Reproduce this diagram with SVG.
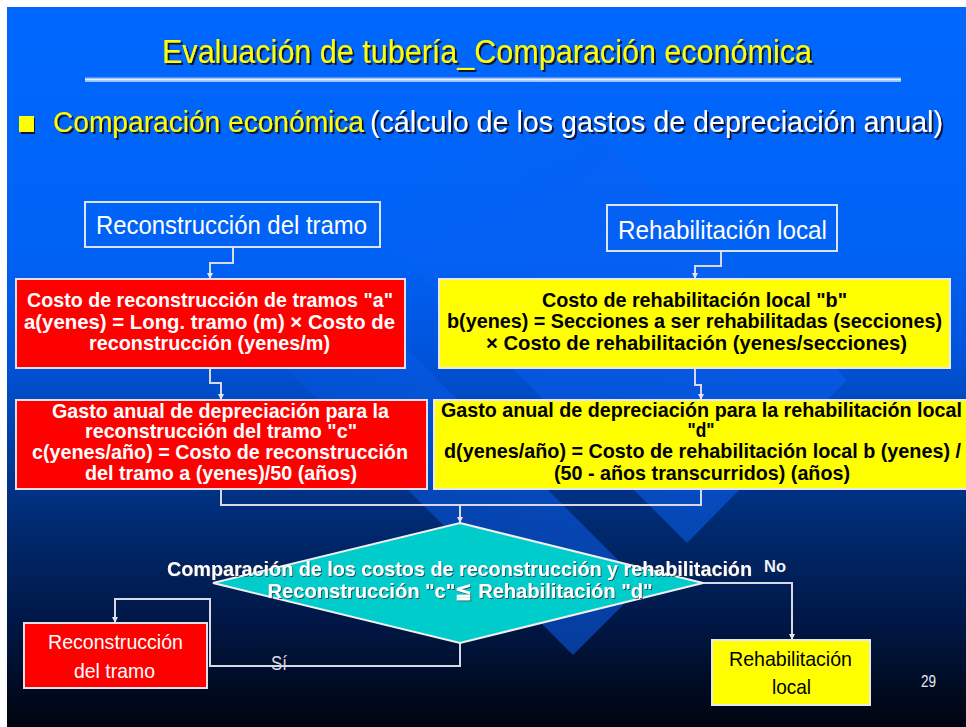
<svg xmlns="http://www.w3.org/2000/svg" width="966" height="727" viewBox="0 0 966 727">
<defs>
<linearGradient id="bg" gradientUnits="userSpaceOnUse" x1="0" y1="0" x2="0" y2="727">
<stop offset="0" stop-color="#0068FF"/>
<stop offset="0.35" stop-color="#0062F5"/>
<stop offset="0.5" stop-color="#0052D8"/>
<stop offset="0.62" stop-color="#003C9E"/>
<stop offset="0.72" stop-color="#002A70"/>
<stop offset="0.85" stop-color="#001848"/>
<stop offset="1" stop-color="#00040E"/>
</linearGradient>
<linearGradient id="bandg" gradientUnits="userSpaceOnUse" x1="250" y1="250" x2="600" y2="600">
<stop offset="0" stop-color="#0b5ff0" stop-opacity="0"/>
<stop offset="0.5" stop-color="#0b5ff0" stop-opacity="0.45"/>
<stop offset="1" stop-color="#0b5ff0" stop-opacity="0.55"/>
</linearGradient>
<filter id="ds" x="-5%" y="-20%" width="110%" height="140%">
<feDropShadow dx="2" dy="2" stdDeviation="0.6" flood-color="#101020" flood-opacity="0.9"/>
</filter>
<filter id="ds1" x="-5%" y="-20%" width="110%" height="140%">
<feDropShadow dx="1" dy="1" stdDeviation="0.5" flood-color="#303040" flood-opacity="0.8"/>
</filter>
<marker id="ah" markerUnits="userSpaceOnUse" markerWidth="7" markerHeight="7" refX="6" refY="3.5" orient="auto">
<path d="M0,0.5 L6,3.5 L0,6.5 z" fill="#e4e4f0"/>
</marker>
<style>
.band{fill:url(#bandg)}
.con{fill:none;stroke:#d8d8e6;stroke-width:2}
.frame{fill:none;stroke:#dce4f4;stroke-width:2}
.red{fill:#FF0000;stroke:#e8e0e8;stroke-width:2}
.yel{fill:#FFFF00;stroke:#e8e8e8;stroke-width:2}
.dia{fill:#00CCCC;stroke:#f0f0f0;stroke-width:2}
.nar{font-family:"Liberation Sans Narrow","Liberation Sans",Arial,sans-serif}
.bw{font-family:"Liberation Sans Narrow","Liberation Sans",Arial,sans-serif;font-weight:bold;font-size:21px;text-anchor:middle}
.wt{fill:#ffffff}
.bk{fill:#000000}
</style>
</defs>
<rect x="0" y="0" width="966" height="727" fill="#ffffff"/>
<rect x="7" y="7" width="959" height="720" fill="url(#bg)"/>
<g id="stripes">
<polygon class="band" points="847,380 687,543 372,228 533,67"/>
<polygon class="band" points="643,585 573,655 259,341 329,271"/>
</g>
<g id="title">
<text class="nar" filter="url(#ds)" x="162" y="63" font-size="34" fill="#FFFF00" textLength="650" lengthAdjust="spacingAndGlyphs">Evaluación de tubería_Comparación económica</text>
<rect x="85" y="77.5" width="816" height="4.5" fill="#9cc0ff"/>
<line x1="85" y1="79.7" x2="901" y2="79.7" stroke="#e8f0ff" stroke-width="1.2"/>
</g>
<g id="bullet">
<rect x="19" y="116" width="15" height="16" fill="#FFFF00" filter="url(#ds)"/>
<text class="nar" filter="url(#ds)" x="53" y="132" font-size="30" fill="#FFFF00" textLength="311" lengthAdjust="spacingAndGlyphs">Comparación económica</text>
<text class="nar" filter="url(#ds)" x="370" y="132" font-size="30" fill="#ffffff" textLength="573" lengthAdjust="spacingAndGlyphs">(cálculo de los gastos de depreciación anual)</text>
</g>
<g id="connectors">
<path class="con" d="M233,247 V263 H210 V279" marker-end="url(#ah)"/>
<path class="con" d="M721,251 V266 H695 V279" marker-end="url(#ah)"/>
<path class="con" d="M210,368 V383 H221 V400" marker-end="url(#ah)"/>
<path class="con" d="M695,368 V385 H701 V400" marker-end="url(#ah)"/>
<path class="con" d="M221,489 V505 H701 V489"/>
<path class="con" d="M460,505 V523" marker-end="url(#ah)"/>
<path class="con" d="M460,643 V666 H210 V599 H115 V623" marker-end="url(#ah)"/>
<path class="con" d="M703,583 H792 V640" marker-end="url(#ah)"/>
</g>
<g id="n_reconstruccion">
<rect class="frame" x="85" y="202" width="295" height="45"/>
<text class="nar wt" x="96" y="234" font-size="26" textLength="271" lengthAdjust="spacingAndGlyphs">Reconstrucción del tramo</text>
</g>
<g id="n_rehabilitacion">
<rect class="frame" x="607" y="205" width="230" height="46"/>
<text class="nar wt" x="618" y="239" font-size="26" textLength="209" lengthAdjust="spacingAndGlyphs">Rehabilitación local</text>
</g>
<g id="n_costo_a">
<rect class="red" x="16" y="279" width="389" height="89"/>
<text class="bw wt" x="210" y="307" textLength="366" lengthAdjust="spacingAndGlyphs">Costo de reconstrucción de tramos "a"</text>
<text class="bw wt" x="209.5" y="329" textLength="371" lengthAdjust="spacingAndGlyphs">a(yenes) = Long. tramo (m)  ×  Costo de</text>
<text class="bw wt" x="209.5" y="350" textLength="241" lengthAdjust="spacingAndGlyphs">reconstrucción (yenes/m)</text>
</g>
<g id="n_costo_b">
<rect class="yel" x="439" y="279" width="511" height="89"/>
<text class="bw bk" x="694.5" y="307" textLength="305" lengthAdjust="spacingAndGlyphs">Costo de rehabilitación local "b"</text>
<text class="bw bk" x="694.5" y="328" textLength="495" lengthAdjust="spacingAndGlyphs">b(yenes) = Secciones a ser rehabilitadas (secciones)</text>
<text class="bw bk" x="696.5" y="350" textLength="421" lengthAdjust="spacingAndGlyphs">×  Costo de rehabilitación (yenes/secciones)</text>
</g>
<g id="n_gasto_c">
<rect class="red" x="16" y="400" width="411" height="89"/>
<text class="bw wt" x="220.5" y="418" textLength="337" lengthAdjust="spacingAndGlyphs">Gasto anual de depreciación para la</text>
<text class="bw wt" x="221" y="438" textLength="272" lengthAdjust="spacingAndGlyphs">reconstrucción del tramo "c"</text>
<text class="bw wt" x="220" y="459" textLength="376" lengthAdjust="spacingAndGlyphs">c(yenes/año) = Costo de reconstrucción</text>
<text class="bw wt" x="221" y="480" textLength="272" lengthAdjust="spacingAndGlyphs">del tramo a (yenes)/50 (años)</text>
</g>
<g id="n_gasto_d">
<rect class="yel" x="434" y="400" width="540" height="89"/>
<text class="bw bk" x="701.5" y="417" textLength="521" lengthAdjust="spacingAndGlyphs">Gasto anual de depreciación para la rehabilitación local</text>
<text class="bw bk" x="701" y="437" textLength="27" lengthAdjust="spacingAndGlyphs">"d"</text>
<text class="bw bk" x="702.5" y="458" textLength="517" lengthAdjust="spacingAndGlyphs">d(yenes/año) = Costo de rehabilitación local b (yenes) /</text>
<text class="bw bk" x="702" y="480" textLength="296" lengthAdjust="spacingAndGlyphs">(50 - años transcurridos) (años)</text>
</g>
<g id="n_comparacion">
<polygon class="dia" points="460,523 703,583 460,643 213,583"/>
<text class="bw wt" filter="url(#ds1)" x="459.5" y="576" font-size="20" textLength="585" lengthAdjust="spacingAndGlyphs">Comparación de los costos de reconstrucción y rehabilitación</text>
<text class="bw wt" filter="url(#ds1)" x="460" y="598" font-size="20" textLength="385" lengthAdjust="spacingAndGlyphs">Reconstrucción "c"≦ Rehabilitación "d"</text>
</g>
<g id="labels">
<text class="nar" x="764" y="572" font-size="17" font-weight="bold" fill="#f0f0f8" textLength="22" lengthAdjust="spacingAndGlyphs">No</text>
<text class="nar" x="271" y="670" font-size="20" fill="#d8d8e0" textLength="16" lengthAdjust="spacingAndGlyphs">Sí</text>
</g>
<g id="n_reconstruccion_final">
<rect class="red" x="24" y="623" width="183" height="65"/>
<text class="nar wt" x="115.5" y="649" font-size="21" text-anchor="middle" textLength="135" lengthAdjust="spacingAndGlyphs">Reconstrucción</text>
<text class="nar wt" x="114.5" y="678" font-size="21" text-anchor="middle" textLength="81" lengthAdjust="spacingAndGlyphs">del tramo</text>
</g>
<g id="n_rehabilitacion_final">
<rect class="yel" x="712" y="640" width="158" height="65"/>
<text class="nar bk" x="790.5" y="666" font-size="21" text-anchor="middle" textLength="123" lengthAdjust="spacingAndGlyphs">Rehabilitación</text>
<text class="nar bk" x="791.5" y="694" font-size="21" text-anchor="middle" textLength="39" lengthAdjust="spacingAndGlyphs">local</text>
</g>
<text class="nar" x="921" y="687" font-size="16" fill="#e8e8f0" textLength="15" lengthAdjust="spacingAndGlyphs">29</text>
</svg>
